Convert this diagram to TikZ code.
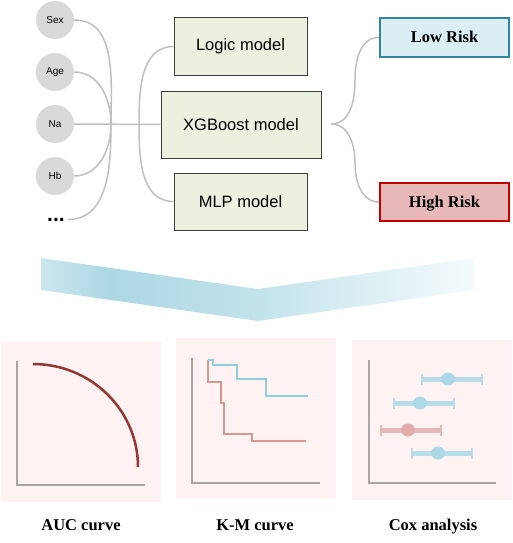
\documentclass[tikz,border=0pt]{standalone}
\usepackage{fontspec}
\setmainfont{Liberation Serif}
\newfontfamily\arialf{Liberation Sans}
\definecolor{conncol}{HTML}{BFBFBF}
\definecolor{inpfill}{HTML}{D9D9D9}
\definecolor{modfill}{HTML}{EBF1DE}
\definecolor{modline}{HTML}{3F3F3F}
\definecolor{lowfill}{HTML}{DBEEF4}
\definecolor{lowline}{HTML}{31859C}
\definecolor{highfill}{HTML}{E6B9B8}
\definecolor{highline}{HTML}{C00000}
\definecolor{panfill}{HTML}{FEF2F2}
\definecolor{axcol}{HTML}{A6A6A6}
\definecolor{auccol}{HTML}{943634}
\definecolor{kmblue}{HTML}{92CDDC}
\definecolor{kmred}{HTML}{D99694}
\definecolor{barblue}{HTML}{B7DEE8}
\definecolor{dotblue}{HTML}{ADD8E6}
\definecolor{barred}{HTML}{E6B9B8}
\definecolor{dotred}{HTML}{E2ADAB}
\definecolor{chA}{HTML}{CDE7EE}
\definecolor{chB}{HTML}{ACD7E4}
\definecolor{chC}{HTML}{C2E3EB}
\definecolor{chD}{HTML}{F4FAFC}
\pgfdeclarehorizontalshading{chevshade}{100bp}{color(0bp)=(chA); color(25bp)=(chA); color(33bp)=(chB); color(50bp)=(chC); color(75bp)=(chD); color(100bp)=(chD)}
\begin{document}
\begin{tikzpicture}[x=1pt,y=-1pt,
  conn/.style={draw=conncol,line width=1.5pt},
  inp/.style={circle,fill=inpfill,minimum size=38pt,inner sep=0pt,font=\arialf\fontsize{10}{12}\selectfont},
  model/.style={draw=modline,line width=1pt,fill=modfill,font=\arialf\fontsize{16.5}{19}\selectfont,inner sep=0pt},
  lowbox/.style={draw=lowline,line width=2pt,fill=lowfill,minimum width=129pt,minimum height=39pt,inner sep=0pt,text height=10pt,text depth=0pt,font=\bfseries\fontsize{16.5}{19}\selectfont},
  highbox/.style={draw=highline,line width=2pt,fill=highfill,minimum width=129pt,minimum height=38pt,inner sep=0pt,text height=10pt,text depth=0pt,font=\bfseries\fontsize{16.5}{19}\selectfont},
  panel/.style={fill=panfill,minimum width=160pt,minimum height=160pt,inner sep=0pt},
  axisline/.style={draw=axcol,line width=2pt},
  lbl/.style={font=\bfseries\fontsize{16.5}{19}\selectfont,inner sep=0pt,anchor=base},
  bar/.style={line width=5pt},
  capline/.style={line width=2pt}]
\useasboundingbox (0,0) rectangle (513,543);
% inputs
\node[inp] (sex) at (55,20) {Sex};
\node[inp] (age) at (55,72) {Age};
\node[inp] (na) at (55,124) {Na};
\node[inp] (hb) at (55,176) {Hb};
\node[font=\arialf\bfseries\fontsize{21}{22}\selectfont,inner sep=1pt] (dots) at (56,219.5) {...};
% models
\node[model,minimum width=133pt,minimum height=57pt] (logic) at (240.5,46.5) {Logic model};
\node[model,minimum width=160pt,minimum height=67pt] (xgb) at (241,124.5) {XGBoost model};
\node[model,minimum width=133pt,minimum height=57pt] (mlp) at (240.5,201.5) {MLP model};
% risks
\node[lowbox] (low) at (444.5,37.5) {Low Risk};
\node[highbox] (high) at (444.5,202) {High Risk};
% connectors
\coordinate (merge) at (111,124);
\coordinate (split) at (139,124);
\coordinate (tip) at (331,124);
\draw[conn] (na.east) -- (xgb.west);
\draw[conn] (sex.east) to[out=0,in=90] (merge);
\draw[conn] (age.east) to[out=0,in=90] (merge);
\draw[conn] (hb.east) to[out=0,in=-90] (merge);
\draw[conn] ([xshift=2pt]dots.east) to[out=0,in=-90] (merge);
\draw[conn] (split) to[out=90,in=180] (logic.west);
\draw[conn] (split) to[out=-90,in=180] (mlp.west);
\draw[conn] (tip) to[out=0,in=-90] (355,80) to[out=90,in=180] (low.west);
\draw[conn] (tip) to[out=0,in=90] (355,163) to[out=-90,in=180] (high.west);
% chevron
\shade[shading=chevshade] (41,258) -- (258,289) -- (474,258) -- (474,290) -- (258,321) -- (41,290) -- cycle;
% panels
\node[panel] (p1) at (81,422) {};
\node[panel] (p2) at (256,418) {};
\node[panel] (p3) at (432,420) {};
% AUC
\draw[axisline] (17,361) -- (17,485) -- (145,485);
\draw[draw=auccol,line width=2.5pt] (33,364) arc[start angle=-90,end angle=0,x radius=105,y radius=103];
% KM
\draw[axisline] (192,358) -- (192,483) -- (320,483);
\draw[draw=kmred,line width=2.7pt] (208,360) -- (208,382) -- (221,382) -- (221,403) -- (224,403) -- (224,434) -- (252,434) -- (252,441) -- (306,441);
\draw[draw=kmblue,line width=2.7pt] (208,360) -- (213,360) -- (213,365) -- (237,365) -- (237,379) -- (266,379) -- (266,396) -- (308,396);
% Cox
\draw[axisline] (369,360) -- (369,483) -- (496,483);
\foreach \y/\a/\b/\m/\bc/\dc in {379/422/482/448/barblue/dotblue, 403/394/454/420/barblue/dotblue, 430/381/441/408/barred/dotred, 453/412/472/438/barblue/dotblue}{
  \draw[bar,draw=\bc] (\a,\y) -- (\b,\y);
  \draw[capline,draw=\bc] (\a,\y-5.5) -- (\a,\y+5.5);
  \draw[capline,draw=\bc] (\b,\y-5.5) -- (\b,\y+5.5);
  \fill[\dc] (\m,\y) ellipse[x radius=7,y radius=6.5];
}
% labels
\node[lbl] (l1) at (81,530) {AUC curve};
\node[lbl] (l2) at (255,530) {K-M curve};
\node[lbl] (l3) at (433,530) {Cox analysis};
\end{tikzpicture}
\end{document}
